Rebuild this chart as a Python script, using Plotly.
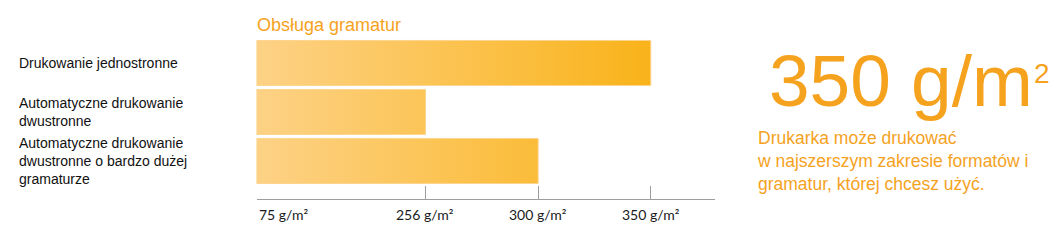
import numpy as np
import plotly.graph_objects as go

# ---- data ----
categories = [
    "Drukowanie jednostronne",
    "Automatyczne drukowanie<br>dwustronne",
    "Automatyczne drukowanie<br>dwustronne o bardzo dużej<br>gramaturze",
]
values = [350, 256, 300]            # g/m²
tick_values = [75, 256, 300, 350]
tick_labels = ["75 g/m²", "256 g/m²", "300 g/m²", "350 g/m²"]
title_text = "Obsługa gramatur"
headline_text = "350 g/m"
headline_sup = "2"
description = "Drukarka może drukować<br>w najszerszym zakresie formatów i<br>gramatur, której chcesz użyć."

# ---- layout constants (the graphic's axis is not to scale: each tick sits on a slot) ----
tick_slots = [0, 1.5, 2.5, 3.5]
W, H = 1055, 245
ORANGE = "#F5A21E"
half = 0.46  # half bar thickness in category units


def slot(v):
    return float(np.interp(v, tick_values, tick_slots))


fig = go.Figure()
base = slot(min(tick_values))
for i, v in enumerate(values):
    x1 = slot(v)
    fig.add_trace(go.Scatter(
        x=[base, x1, x1, base, base],
        y=[i - half, i - half, i + half, i + half, i - half],
        mode="lines",
        fill="toself",
        fillgradient=dict(
            type="horizontal",
            colorscale=[[0, "#FDD286"], [1, "#F9B31A"]],
            start=slot(tick_values[0]),
            stop=slot(tick_values[-1]),
        ),
        line=dict(color="#FDD58E", width=1),
        hoverinfo="skip",
        showlegend=False,
    ))

annotations = []
# category labels
for i, c in enumerate(categories):
    annotations.append(dict(
        text=c, x=17 / W, xref="paper", xanchor="left", align="left",
        y=i, yref="y", yanchor="middle", showarrow=False,
        font=dict(family="Liberation Sans, Arial", size=14, color="#111111"),
    ))
# tick labels
for i, (tv, tl) in enumerate(zip(tick_values, tick_labels)):
    annotations.append(dict(
        text=tl, x=slot(tv), xref="x", xanchor="left" if i == 0 else "center",
        y=(H - 214) / H, yref="paper", yanchor="middle", showarrow=False,
        font=dict(family="Lato, Carlito, sans-serif", size=14, color="#1a1a1a"),
    ))
# title
annotations.append(dict(
    text=title_text, x=255 / W, xref="paper", xanchor="left",
    y=(H - 25) / H, yref="paper", yanchor="middle", showarrow=False,
    font=dict(family="Liberation Sans, Arial", size=18, color=ORANGE),
))
# headline
annotations.append(dict(
    text=headline_text, x=767 / W, xref="paper", xanchor="left",
    y=(H - 80) / H, yref="paper", yanchor="middle", showarrow=False,
    font=dict(family="Liberation Sans, Arial", size=73, color=ORANGE),
))
annotations.append(dict(
    text=headline_sup, x=1032 / W, xref="paper", xanchor="left",
    y=(H - 74) / H, yref="paper", yanchor="middle", showarrow=False,
    font=dict(family="Liberation Sans, Arial", size=28, color=ORANGE),
))
annotations.append(dict(
    text=description, x=755 / W, xref="paper", xanchor="left", align="left",
    y=(H - 161) / H, yref="paper", yanchor="middle", showarrow=False,
    font=dict(family="Liberation Sans, Arial", size=17.5, color=ORANGE),
))

fig.update_layout(
    width=W, height=H,
    margin=dict(l=0, r=0, t=0, b=0),
    paper_bgcolor="white", plot_bgcolor="white",
    showlegend=False,
    xaxis=dict(
        domain=[256.5 / W, 715 / W], range=[0, 4.07],
        showline=True, linecolor="#9E9E9E", linewidth=1,
        ticks="inside", ticklen=13, tickcolor="#9E9E9E", tickwidth=1,
        tickvals=[slot(t) for t in tick_values], showticklabels=False,
        showgrid=False, zeroline=False, fixedrange=True,
    ),
    yaxis=dict(
        domain=[(H - 199) / H, (H - 36) / H], range=[2.776, -0.551],
        visible=False, showgrid=False, zeroline=False, fixedrange=True,
    ),
    annotations=annotations,
)

fig.write_html("out.html")
